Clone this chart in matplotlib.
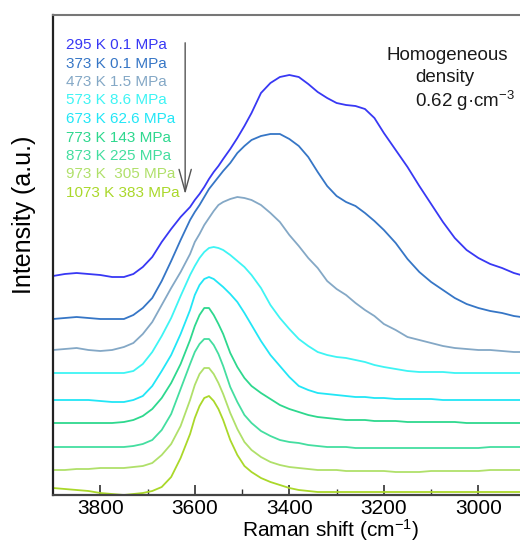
import matplotlib.pyplot as plt

plt.rcParams['font.family'] = ['Liberation Sans', 'DejaVu Sans']
plt.rcParams['mathtext.fontset'] = 'custom'
plt.rcParams['mathtext.rm'] = 'Liberation Sans'
plt.rcParams['mathtext.it'] = 'Liberation Sans:italic'

# Raman shift (cm-1)
wavenumber = [3900, 3875, 3850, 3825, 3800, 3775, 3750, 3730, 3710, 3690, 3670, 3650, 3630,
              3610, 3600, 3590, 3580, 3570, 3560, 3550, 3540, 3525, 3510, 3495, 3480,
              3460, 3440, 3420, 3400, 3380, 3360, 3340, 3320, 3300, 3280, 3260, 3240,
              3220, 3200, 3175, 3150, 3125, 3100, 3075, 3050, 3025, 3000, 2975, 2950,
              2925, 2910]

# intensities (a.u., stacked with the offsets as drawn)
int_295 = [219, 221, 222, 221, 220, 218, 218, 221, 228, 238, 253, 266, 278,
           288, 295, 301, 308, 316, 323, 329, 336, 346, 357, 369, 382,
           402, 412, 418, 420, 418, 411, 403, 397, 392, 390, 389, 386,
           377, 362, 345, 328, 309, 291, 273, 257, 245, 237, 231, 227,
           222, 220]
int_373 = [176, 177, 178, 177, 176, 176, 176, 180, 187, 197, 214, 234, 255,
           275, 283, 290, 298, 306, 312, 318, 324, 332, 342, 349, 355,
           359, 361, 361, 356, 349, 338, 323, 309, 299, 293, 289, 282,
           274, 265, 252, 236, 223, 213, 205, 197, 191, 187, 184, 182,
           179, 178]
int_473 = [145, 146, 147, 145, 144, 145, 148, 152, 161, 173, 190, 207, 223,
           241, 253, 261, 270, 277, 284, 290, 293, 296, 298, 297, 295,
           290, 282, 273, 260, 249, 237, 227, 214, 206, 200, 192, 185,
           179, 171, 165, 158, 155, 152, 149, 147, 146, 145, 145, 144,
           143, 143]
int_573 = [122, 122, 122, 122, 122, 122, 122, 124, 131, 143, 159, 177, 199,
           220, 229, 237, 243, 247, 248, 247, 245, 240, 234, 228, 220,
           207, 190, 177, 166, 156, 149, 143, 140, 138, 137, 135, 133,
           130, 128, 126, 124, 123, 123, 123, 122, 122, 122, 122, 122,
           122, 122]
int_673 = [95, 95, 95, 95, 94, 93, 93, 95, 99, 109, 124, 140, 161,
           185, 200, 210, 216, 218, 216, 212, 208, 201, 193, 182, 170,
           154, 140, 129, 118, 109, 105, 102, 101, 100, 99, 98, 98,
           97, 97, 96, 96, 96, 96, 95, 95, 95, 95, 95, 95,
           95, 95]
int_773 = [72, 72, 72, 72, 72, 72, 73, 75, 79, 86, 97, 112, 131,
           155, 169, 180, 187, 187, 180, 171, 161, 142, 128, 117, 109,
           102, 96, 90, 86, 83, 80, 78, 77, 76, 75, 75, 75,
           74, 74, 74, 73, 73, 73, 73, 73, 72, 72, 72, 72,
           72, 72]
int_873 = [48, 48, 48, 48, 48, 48, 48, 49, 51, 55, 65, 81, 106,
           131, 143, 151, 156, 156, 150, 141, 129, 108, 93, 80, 72,
           64, 59, 55, 53, 52, 50, 49, 48, 48, 48, 47, 47,
           47, 47, 47, 47, 47, 47, 47, 47, 47, 47, 48, 48,
           48, 48]
int_973 = [25, 25, 26, 26, 27, 27, 27, 28, 29, 32, 40, 51, 69,
           95, 110, 121, 127, 127, 121, 112, 101, 82, 66, 53, 45,
           38, 33, 30, 28, 27, 26, 25, 25, 25, 24, 24, 24,
           24, 24, 23, 23, 23, 24, 24, 24, 24, 24, 25, 25,
           25, 25]
int_1073 = [7, 6, 5, 4, 2, 1, 0, 1, 2, 4, 8, 18, 37,
            61, 77, 89, 97, 99, 94, 86, 75, 55, 40, 29, 23,
            17, 13, 10, 7, 5, 4, 3, 3, 3, 3, 3, 3,
            3, 3, 3, 3, 3, 3, 3, 3, 3, 3, 3, 3,
            3, 3]

labels = ["295 K 0.1 MPa", "373 K 0.1 MPa", "473 K 1.5 MPa", "573 K 8.6 MPa",
          "673 K 62.6 MPa", "773 K 143 MPa", "873 K 225 MPa", "973 K  305 MPa",
          "1073 K 383 MPa"]
spectra = [int_295, int_373, int_473, int_573, int_673, int_773, int_873, int_973, int_1073]
colors = ["#3838f4", "#3676c6", "#84a8c6", "#3ef4f4", "#22e6f6",
          "#2ed88e", "#44dea0", "#b0e06a", "#aad82a"]

fig = plt.figure(figsize=(5.2, 5.45), dpi=100)
ax = fig.add_axes([53 / 520, 50 / 545, 467 / 520, 480 / 545])

for y, c in zip(spectra, colors):
    ax.plot(wavenumber, y, color=c, lw=1.3, clip_on=False, solid_joinstyle='round')

ax.set_xlim(3900, 2912)
ax.set_ylim(0, 480)
ax.set_yticks([])
ax.set_xticks([3800, 3600, 3400, 3200, 3000])
ax.set_xticks([3700, 3500, 3300, 3100], minor=True)
ax.tick_params(axis='x', which='major', direction='in', length=7, width=1.2,
               labelsize=15, pad=3, color='#303030')
ax.tick_params(axis='x', which='minor', direction='in', length=4, width=1.0,
               color='#303030')

ax.spines['right'].set_visible(False)
ax.spines['top'].set_color('#777777')
ax.spines['top'].set_linewidth(1.5)
ax.spines['left'].set_color('#222222')
ax.spines['left'].set_linewidth(1.6)
ax.spines['bottom'].set_color('#444444')
ax.spines['bottom'].set_linewidth(1.6)

ax.set_xlabel("Raman shift (cm$^{-1}$)", fontsize=15, va='baseline')
ax.xaxis.set_label_coords(0.595, (495 - 537) / 480)
ax.set_ylabel("Intensity (a.u.)", fontsize=18, va='baseline')
ax.yaxis.set_label_coords((31 - 53) / 467, (495 - 215) / 480)

# sample labels, top to bottom
for i, (lab, c) in enumerate(zip(labels, colors)):
    ax.text(0.028, (495 - (45 + 18.5 * i)) / 480, lab, color=c, fontsize=11,
            transform=ax.transAxes, ha='left', va='center')

ax.annotate('', xy=(0.283, (495 - 197) / 480), xytext=(0.283, (495 - 40) / 480),
            xycoords='axes fraction', textcoords='axes fraction',
            arrowprops=dict(arrowstyle='->,head_length=0.8,head_width=0.22',
                            color='#555555', lw=1.0, mutation_scale=20))

ax.text((447 - 53) / 467, (495 - 55) / 480, "Homogeneous", fontsize=13.5,
        transform=ax.transAxes, ha='center', va='center', color='#1a1a1a')
ax.text((445 - 53) / 467, (495 - 78) / 480, "density", fontsize=13.5,
        transform=ax.transAxes, ha='center', va='center', color='#1a1a1a')
ax.text((415 - 53) / 467, (495 - 101) / 480, "0.62 g·cm$^{-3}$", fontsize=13.5,
        transform=ax.transAxes, ha='left', va='center', color='#1a1a1a')

fig.savefig("out.png", dpi=100)
